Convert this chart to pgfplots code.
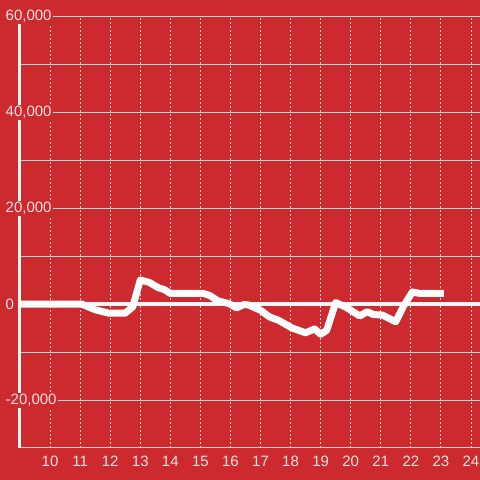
\documentclass[border=0pt]{standalone}
\usepackage{fontspec}
\setmainfont{Liberation Sans}
\usepackage{pgfplots}
\pgfplotsset{compat=1.18}
\definecolor{bg}{RGB}{204,42,47}
\definecolor{lbl}{RGB}{244,226,226}
\definecolor{gridc}{RGB}{222,210,210}
\begin{document}
\begin{tikzpicture}
\fill[bg] (0pt,0pt) rectangle (480pt,480pt);
\begin{axis}[
  at={(20pt,32pt)}, anchor=south west,
  scale only axis, width=460pt, height=432pt,
  xmin=9.0, xmax=24.3, ymin=-30000, ymax=60000,
  axis x line*=bottom, axis y line*=left,
  x axis line style={draw=gridc, line width=1pt},
  y axis line style={draw=white!95!bg, line width=3pt, shorten >=8pt},
  xtick={10,...,24},
  ytick={-20000,0,20000,40000,60000},
  minor ytick={-10000,10000,30000,50000},
  major tick length=0pt, minor tick length=0pt,
  xmajorgrids, ymajorgrids, yminorgrids,
  x grid style={draw=gridc, line width=0.9pt, dash pattern=on 2pt off 2pt},
  y grid style={draw=gridc, line width=0.9pt},
  minor y grid style={draw=gridc, line width=0.9pt},
  scaled y ticks=false,
  /pgf/number format/.cd, 1000 sep={,}, assume math mode=true,
  /pgfplots/.cd,
  ticklabel style={font=\fontsize{15}{17}\selectfont, text=lbl},
  yticklabel style={anchor=west, xshift=-16pt, yshift=-0.5pt, fill=bg, inner sep=1.5pt},
  xticklabel style={inner sep=0pt, yshift=-7.5pt},
]
\draw[white!95!bg, line width=3.5pt] (axis cs:9.0,0) -- (axis cs:24.3,0);
\addplot[white, line width=7pt, line join=round, line cap=butt] coordinates {
(9.0,0) (11.05,0) (11.5,-1200) (11.95,-1900) (12.5,-1900) (12.75,-600)
(13.0,5000) (13.3,4500) (13.6,3400) (13.8,3000) (14.0,2200) (15.1,2200)
(15.3,1800) (15.6,600) (15.95,100) (16.2,-800) (16.45,-100) (16.6,-200)
(17.0,-1300) (17.3,-2700) (17.6,-3400) (18.05,-5000) (18.5,-6000) (18.8,-5200)
(19.0,-6300) (19.2,-5500) (19.5,300) (19.85,-700) (20.3,-2500) (20.55,-1600)
(20.75,-2200) (21.05,-2300) (21.5,-3700) (21.75,-500) (22.05,2500) (22.3,2200)
(23.1,2200)
};
\end{axis}
\pgfresetboundingbox
\useasboundingbox (0pt,0pt) rectangle (480pt,480pt);
\end{tikzpicture}
\end{document}
